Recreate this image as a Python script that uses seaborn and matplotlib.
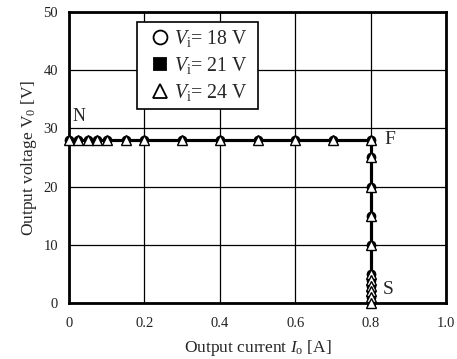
import numpy as np
import pandas as pd
import matplotlib
matplotlib.use("Agg")
import matplotlib.pyplot as plt
import seaborn as sns
from matplotlib.ticker import MultipleLocator

# Data
current_A = [0, 0.025, 0.05, 0.075, 0.1, 0.15, 0.2, 0.3, 0.4, 0.5, 0.6, 0.7, 0.8,
             0.8, 0.8, 0.8, 0.8, 0.8, 0.8, 0.8, 0.8, 0.8, 0.8]
voltage_V = [28, 28, 28, 28, 28, 28, 28, 28, 28, 28, 28, 28, 28,
             25, 20, 15, 10, 5, 4, 3, 2, 1, 0]
series = ["18 V", "21 V", "24 V"]
x_ticks = [0, 0.2, 0.4, 0.6, 0.8, 1.0]
x_tick_labels = ["0", "0.2", "0.4", "0.6", "0.8", "1.0"]
y_ticks = [0, 10, 20, 30, 40, 50]
point_labels = ["N", "F", "S"]

rows = []
for s in series:
    for i, v in zip(current_A, voltage_V):
        rows.append({"I": i, "V": v, "Vi": s})
df = pd.DataFrame(rows)

sns.set_theme(style="white")
plt.rcParams["font.family"] = ["Liberation Serif", "DejaVu Serif"]
plt.rcParams["mathtext.fontset"] = "custom"
plt.rcParams["mathtext.rm"] = "Liberation Serif"
plt.rcParams["mathtext.it"] = "Liberation Serif:italic"

fig = plt.figure(figsize=(4.57, 3.59), dpi=100)
ax = fig.add_axes([0.151, 0.156, 0.825, 0.811])

styles = {
    "18 V": dict(marker="o", ms=6, mfc="white", mec="black"),
    "21 V": dict(marker="s", ms=4.5, mfc="black", mec="black"),
    "24 V": dict(marker="^", ms=6.5, mfc="white", mec="black"),
}
handles = []
for s in series:
    sub = df[df["Vi"] == s]
    sns.lineplot(data=sub, x="I", y="V", ax=ax, sort=False, estimator=None,
                 color="black", lw=2.2, zorder=3, legend=False)
for s in series:
    sub = df[df["Vi"] == s]
    st = styles[s]
    ax.plot(sub["I"], sub["V"], ls="none", marker=st["marker"], ms=st["ms"],
            mfc=st["mfc"], mec=st["mec"], mew=1, zorder=4, clip_on=False)
    h, = ax.plot([], [], ls="none", marker=st["marker"], ms=10 if st["marker"] != "s" else 9,
                 mfc=st["mfc"], mec="black", mew=1.3)
    handles.append(h)

ax.set_xlim(0, 1.0)
ax.set_ylim(0, 50)
ax.set_xticks(x_ticks)
ax.set_xticklabels(x_tick_labels)
ax.set_yticks(y_ticks)
ax.xaxis.set_minor_locator(MultipleLocator(0.05))
ax.yaxis.set_minor_locator(MultipleLocator(2))
ax.tick_params(which="both", direction="in", color="black", labelsize=10.5,
               labelcolor="#222222")
ax.tick_params(which="major", length=0, width=1)
ax.tick_params(which="minor", length=4, width=1)
ax.tick_params(axis="x", pad=10)
ax.tick_params(axis="y", pad=8)
ax.grid(True, which="major", color="black", lw=0.9)
for sp in ax.spines.values():
    sp.set_color("black")
    sp.set_linewidth(2)

ax.set_xlabel(r"Output current $\mathit{I}_\mathrm{o}$ [A]", fontsize=12.5, labelpad=6)
ax.set_ylabel(r"Output voltage V$_0$ [V]", fontsize=12.5, labelpad=3)

ax.text(0.008, 30.6, point_labels[0], fontsize=13, ha="left", va="bottom")
ax.text(0.836, 28, point_labels[1], fontsize=14, ha="left", va="center")
ax.text(0.833, 0.8, point_labels[2], fontsize=14, ha="left", va="bottom")

leg = ax.legend(handles, [r"$\mathit{V}_\mathrm{i}$= " + s + "  " for s in series],
                loc="upper left", bbox_to_anchor=(0.18, 0.966), fontsize=14.3,
                frameon=True, fancybox=False, edgecolor="black", framealpha=1,
                handlelength=1.7, handletextpad=-0.15, borderpad=0.3, labelspacing=0.32,
                borderaxespad=0)
leg.get_frame().set_linewidth(1.2)
leg.set_zorder(10)

fig.savefig("out.png", dpi=100)
